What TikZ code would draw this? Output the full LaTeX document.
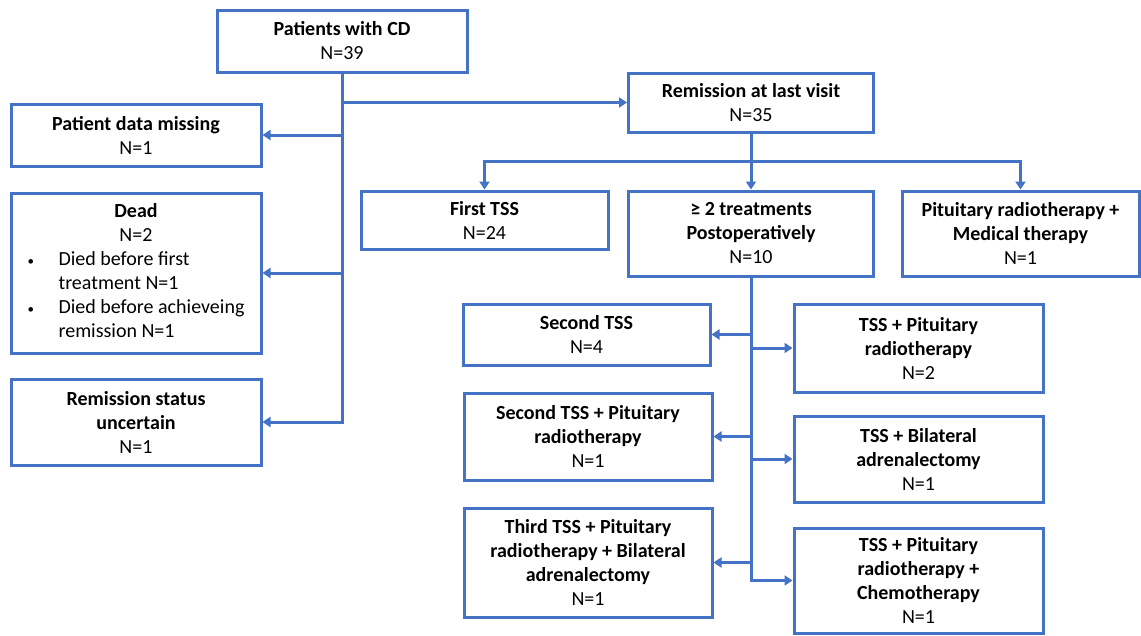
\documentclass[tikz,border=0pt]{standalone}
\usepackage{fontspec}
\setmainfont{Carlito}
\usepackage{xcolor}
\usepackage{tikz}
\usetikzlibrary{arrows.meta,positioning}
\definecolor{flowblue}{HTML}{4472C4}

\begin{document}
\begin{tikzpicture}[x=1pt,y=-1pt,
  box/.style={draw=flowblue,line width=3pt,inner sep=0pt,align=center,
    font=\fontsize{20}{24}\selectfont},
  link/.style={draw=flowblue,line width=3pt},
  arrow/.style={link,-{Triangle[length=8pt,width=10pt]}}]
\useasboundingbox (0,0) rectangle (1141,635);

\node[box,minimum width=250pt,minimum height=62pt] (cd) at (342,41) {\textbf{Patients with CD}\\N=39};
\node[box,minimum width=250pt,minimum height=62pt] (miss) at (136,135) {\textbf{Patient data missing}\\N=1};
\node[box,minimum width=250pt,minimum height=160pt] (dead) at (136,273) {%
\begin{tabular}{@{}p{31pt}@{}l@{}}
\multicolumn{2}{c}{\textbf{Dead}}\\
\multicolumn{2}{c}{N=2}\\
{\fontsize{13}{24}\selectfont\textbullet} & Died before first\\
 & treatment N=1\\
{\fontsize{13}{24}\selectfont\textbullet} & Died before achieveing\\
 & remission N=1
\end{tabular}};
\node[box,minimum width=250pt,minimum height=86pt] (unc) at (136,422) {\textbf{Remission status}\\\textbf{uncertain}\\N=1};

\node[box,minimum width=245pt,minimum height=59pt] (rem) at (751,102.5) {\textbf{Remission at last visit}\\N=35};
\node[box,minimum width=247pt,minimum height=58pt] (first) at (484.5,220) {\textbf{First TSS}\\N=24};
\node[box,minimum width=245pt,minimum height=85pt] (two) at (751,233.5) {\textbf{≥ 2 treatments}\\\textbf{Postoperatively}\\N=10};
\node[box,minimum width=237pt,minimum height=85pt] (pit) at (1020.5,233.5) {\textbf{Pituitary radiotherapy +}\\\textbf{Medical therapy}\\N=1};

\node[box,minimum width=247pt,minimum height=61pt] (sec) at (586.5,334.5) {\textbf{Second TSS}\\N=4};
\node[box,minimum width=248pt,minimum height=87pt] (secpit) at (588,436.5) {\textbf{Second TSS + Pituitary}\\\textbf{radiotherapy}\\N=1};
\node[box,minimum width=248pt,minimum height=109pt] (third) at (588,562.5) {\textbf{Third TSS + Pituitary}\\\textbf{radiotherapy + Bilateral}\\\textbf{adrenalectomy}\\N=1};
\node[box,minimum width=249pt,minimum height=88pt] (tsspit) at (918.5,348) {\textbf{TSS + Pituitary}\\\textbf{radiotherapy}\\N=2};
\node[box,minimum width=249pt,minimum height=86pt] (tssbil) at (918.5,459) {\textbf{TSS + Bilateral}\\\textbf{adrenalectomy}\\N=1};
\node[box,minimum width=249pt,minimum height=105pt] (chemo) at (918.5,580.5) {\textbf{TSS + Pituitary}\\\textbf{radiotherapy +}\\\textbf{Chemotherapy}\\N=1};

\coordinate (bar) at (751,161);

\draw[arrow] (cd.south) |- (unc.east);
\draw[arrow] (cd.south |- miss.east) -- (miss.east);
\draw[arrow] (cd.south |- dead.east) -- (dead.east);
\draw[arrow] (cd.south |- rem.west) -- (rem.west);

\draw[arrow] (rem.south) -- (two.north);
\draw[{Triangle[length=8pt,width=10pt]}-{Triangle[length=8pt,width=10pt]},link] (first.north) |- (bar) -| (pit.north);

\draw[arrow] (two.south) |- (chemo.west);
\draw[arrow] (two.south |- sec.east) -- (sec.east);
\draw[arrow] (two.south |- secpit.east) -- (secpit.east);
\draw[arrow] (two.south |- third.east) -- (third.east);
\draw[arrow] (two.south |- tsspit.west) -- (tsspit.west);
\draw[arrow] (two.south |- tssbil.west) -- (tssbil.west);
\end{tikzpicture}
\end{document}
